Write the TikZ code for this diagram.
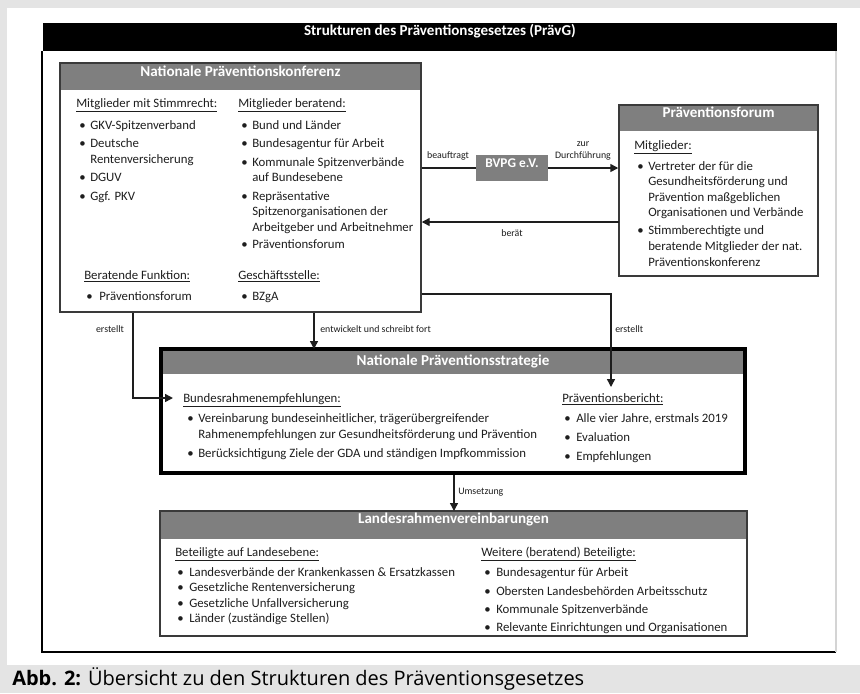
\documentclass[tikz,border=0pt]{standalone}
\usepackage{fontspec}
\setmainfont{Carlito}
\newfontfamily\capfont{Open Sans}
\usetikzlibrary{arrows.meta,fit,calc}
\definecolor{hdrgrey}{HTML}{7F7F7F}
\definecolor{bggrey}{HTML}{E4E4E4}
\definecolor{txt}{HTML}{1E1E1E}
\definecolor{edge}{HTML}{3A3A3A}
\definecolor{rgrey}{HTML}{D4D4D4}
\newcounter{tn}
% plain text line: x, baseline y, text
\newcommand\tline[3]{\stepcounter{tn}\node[txtnode] (t\arabic{tn}) at (#1,#2) {#3};}
% bulleted line: bullet x, text x, baseline y, text
\newcommand\bline[4]{\stepcounter{tn}\node[txtnode] (b\arabic{tn}) at (#1,#3) {•};\node[txtnode] (t\arabic{tn}) at (#2,#3) {#4};}
\tikzset{
  txtnode/.style={anchor=base west, inner sep=0pt, font=\fontsize{9.6}{11}\selectfont, text=txt},
  lbl/.style={inner sep=0pt, font=\fontsize{7.4}{8.6}\selectfont, text=txt},
  boxframe/.style={draw=edge, line width=1.1pt, inner sep=0pt},
  hdrfont/.style={font=\bfseries\fontsize{11.3}{13}\selectfont},
  hdrfill/.style={fill=hdrgrey, inner sep=0pt, text=white, hdrfont},
  conn/.style={draw=txt, line width=1.1pt},
  arr/.style={conn, -{Triangle[length=6pt,width=6pt]}},
}
\begin{document}
\begin{tikzpicture}[x=0.75pt,y=-0.75pt]
\useasboundingbox (0,0) rectangle (860,693);
% background and panel
\fill[bggrey] (0,0) rectangle (860,693);
\fill[white] (7,8) rectangle (860,665);
% title bar and frame
\node[fill=black, inner sep=0pt, text=white, hdrfont, fit={(43,23)(837,51)}] (title) {Strukturen des Präventionsgesetzes (PrävG)};
\draw[black, line width=1pt] (42,51) -- (42,652) -- (836,652);
\draw[rgrey, line width=1pt] (836,51) -- (836,652);

% Nationale Praeventionskonferenz
\node[hdrfill, fit={(60,63)(421,90)}] (npkh) {Nationale Präventionskonferenz};
\node[boxframe, fit={(60,63)(421,312)}] (npk) {};
\tline{76}{107}{\underline{Mitglieder mit Stimmrecht:}}
\bline{79}{90}{129}{GKV-Spitzenverband}
\bline{79}{90}{147}{Deutsche}
\tline{90}{163}{Rentenversicherung}
\bline{79}{90}{181}{DGUV}
\bline{79}{90}{200}{Ggf. PKV}
\tline{238}{107}{\underline{Mitglieder beratend:}}
\bline{241}{252}{129}{Bund und Länder}
\bline{241}{252}{147}{Bundesagentur für Arbeit}
\bline{241}{252}{166}{Kommunale Spitzenverbände}
\tline{252}{181}{auf Bundesebene}
\bline{241}{252}{200}{Repräsentative}
\tline{252}{215}{Spitzenorganisationen der}
\tline{252}{231}{Arbeitgeber und Arbeitnehmer}
\bline{241}{252}{248}{Präventionsforum}
\tline{84}{279}{\underline{Beratende Funktion:}}
\bline{86}{99}{300}{Präventionsforum}
\tline{238}{279}{\underline{Geschäftsstelle:}}
\bline{241}{252}{300}{BZgA}

% Praeventionsforum
\node[hdrfill, fit={(619,105)(818,131)}] (pfh) {Präventionsforum};
\node[boxframe, fit={(619,105)(818,276)}] (pf) {};
\tline{634}{149}{\underline{Mitglieder:}}
\bline{637}{648}{170}{Vertreter der für die}
\tline{648}{185}{Gesundheitsförderung und}
\tline{648}{201}{Prävention maßgeblichen}
\tline{648}{216}{Organisationen und Verbände}
\bline{637}{648}{234}{Stimmberechtigte und}
\tline{648}{250}{beratende Mitglieder der nat.}
\tline{648}{266}{Präventionskonferenz}

% BVPG
\node[fill=hdrgrey, inner sep=0pt, text=white, font=\bfseries\fontsize{10}{12}\selectfont, fit={(476,155)(548,181)}] (bvpg) {BVPG e.V.};

% Nationale Praeventionsstrategie
\node[fill=hdrgrey, inner sep=0pt, fit={(161,349)(745,374)}] (nsh) {};
\node[inner sep=0pt, text=white, hdrfont] (nsht) at (nsh.center) {Nationale Präventionsstrategie};
\node[draw=black, line width=2.8pt, inner sep=0pt, fit={(161,349)(745,473)}] (ns) {};
\tline{183}{402}{\underline{Bundesrahmenempfehlungen:}}
\bline{187}{198}{422}{Vereinbarung bundeseinheitlicher, trägerübergreifender}
\tline{198}{438}{Rahmenempfehlungen zur Gesundheitsförderung und Prävention}
\bline{187}{198}{457}{Berücksichtigung Ziele der GDA und ständigen Impfkommission}
\tline{562}{402}{\underline{Präventionsbericht:}}
\bline{564}{576}{422}{Alle vier Jahre, erstmals 2019}
\bline{564}{576}{441}{Evaluation}
\bline{564}{576}{460}{Empfehlungen}

% Landesrahmenvereinbarungen
\node[hdrfill, fit={(160,511)(747,539)}] (lrvh) {Landesrahmenvereinbarungen};
\node[boxframe, fit={(160,511)(747,636)}] (lrv) {};
\tline{175}{556}{\underline{Beteiligte auf Landesebene:}}
\bline{177}{189}{576}{Landesverbände der Krankenkassen \& Ersatzkassen}
\bline{177}{189}{591}{Gesetzliche Rentenversicherung}
\bline{177}{189}{607}{Gesetzliche Unfallversicherung}
\bline{177}{189}{622}{Länder (zuständige Stellen)}
\tline{481}{556}{\underline{Weitere (beratend) Beteiligte:}}
\bline{484}{496}{576}{Bundesagentur für Arbeit}
\bline{484}{496}{595}{Obersten Landesbehörden Arbeitsschutz}
\bline{484}{496}{613}{Kommunale Spitzenverbände}
\bline{484}{496}{631}{Relevante Einrichtungen und Organisationen}

% connectors
\coordinate (bera) at (619,222);
\coordinate (e1x) at (133,398);
\coordinate (bre) at (173,398);
\coordinate (mid) at (314,349);
\coordinate (e3) at (611,294);
\coordinate (pbt) at (611,387);
\coordinate (um) at (454,511);
\draw[conn] (npk.east |- bvpg.west) -- (bvpg.west);
\draw[arr] (bvpg.east) -- (bvpg.east -| pf.west);
\draw[arr] (bera) -- (bera -| npk.east);
\draw[arr] (npk.south -| e1x) -- (e1x) -- (bre);
\draw[arr] (npk.south -| mid) -- (mid);
\draw[arr] (npk.east |- e3) -- (e3) -- (pbt);
\draw[arr] (ns.south -| um) -- (um);

% connector labels
\node[lbl] (l1) at (448,156) {beauftragt};
\node[lbl, align=center] (l2) at (583,151) {zur\\Durchführung};
\node[lbl] (l3) at (512,233) {berät};
\node[lbl] (l4) at (110,329) {erstellt};
\node[lbl, anchor=west] (l5) at (320,329) {entwickelt und schreibt fort};
\node[lbl, anchor=west] (l6) at (615,329) {erstellt};
\node[lbl, anchor=west] (l7) at (458,492) {Umsetzung};

% caption
\node[anchor=base west, inner sep=0pt, text=black, font=\capfont\fontsize{15}{18}\selectfont] (cap) at (12,685) {\textbf{Abb. 2:} Übersicht zu den Strukturen des Präventionsgesetzes};
\end{tikzpicture}
\end{document}
